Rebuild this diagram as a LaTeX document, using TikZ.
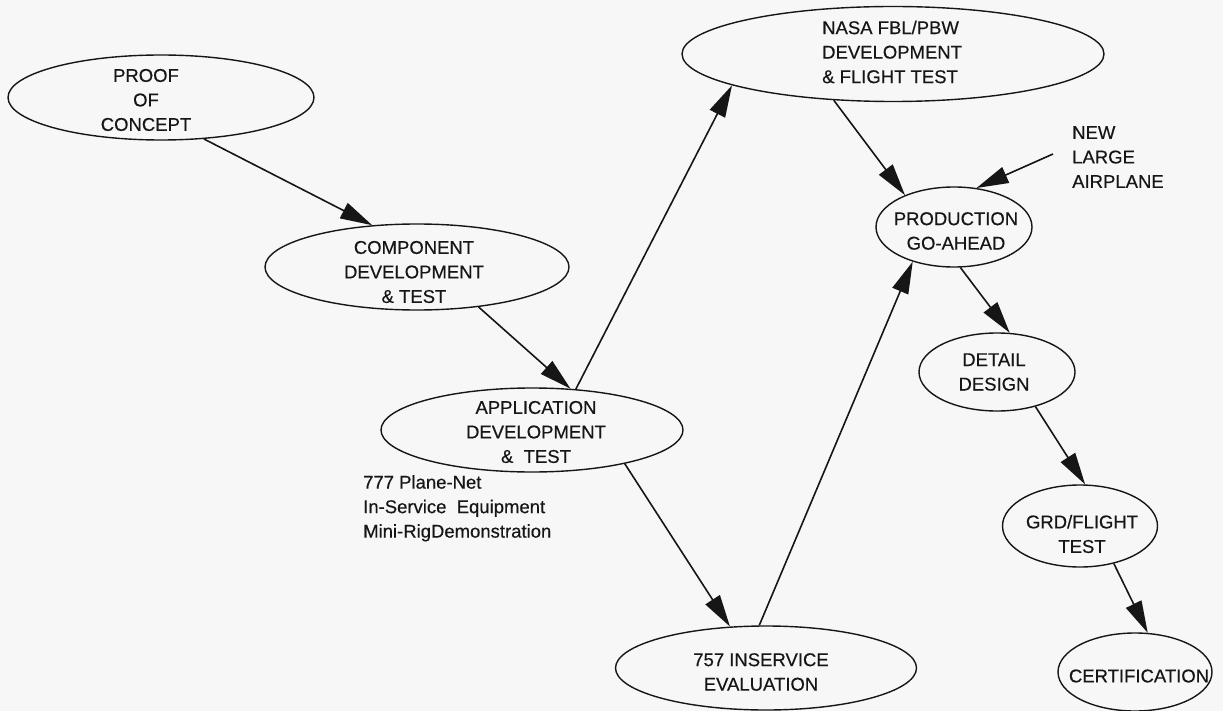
\documentclass[tikz,border=0pt]{standalone}
\usepackage{fontspec}
\setmainfont[FakeBold=0.4]{Liberation Sans}
\usetikzlibrary{shapes.geometric,arrows.meta}
\definecolor{paper}{RGB}{246,247,246}
\definecolor{ink}{RGB}{22,22,22}
\begin{document}
\begin{tikzpicture}[x=1pt,y=-1pt,
  oval/.style={draw=ink, ellipse, line width=1.4pt, inner sep=0pt},
  lbl/.style={text=ink, align=center, inner sep=0pt, font=\fontsize{18.5}{24.5}\selectfont},
  lbll/.style={lbl, align=left},
  conn/.style={draw=ink, line width=1.6pt, -{Triangle[length=32pt,width=17pt]}}]
\fill[paper] (0,0) rectangle (1223,711);
\useasboundingbox (0,0) rectangle (1223,711);
% ellipses
\node[oval, minimum width=306pt, minimum height=85pt] (poc) at (161,97.5) {};
\node[oval, minimum width=304pt, minimum height=86pt] (comp) at (417,267) {};
\node[oval, minimum width=302pt, minimum height=84pt] (app) at (532,430) {};
\node[oval, minimum width=422pt, minimum height=95pt] (nasa) at (893,54) {};
\node[oval, minimum width=301pt, minimum height=84pt] (eval) at (766,668) {};
\node[oval, minimum width=156pt, minimum height=80pt] (prod) at (954,227) {};
\node[oval, minimum width=156pt, minimum height=78pt] (detail) at (997,372) {};
\node[oval, minimum width=155pt, minimum height=82pt] (grd) at (1080,526) {};
\node[oval, minimum width=154pt, minimum height=78pt] (cert) at (1135,672) {};
% texts
\node[lbl] (pocT) at (146,100) {PROOF\\OF\\CONCEPT};
\node[lbl] (compT) at (414,272) {COMPONENT\\DEVELOPMENT\\\& TEST};
\node[lbl] (appT) at (536,432) {APPLICATION\\DEVELOPMENT\\\&\ \ TEST};
\node[lbll, anchor=west] (nasaT) at (822,52) {NASA FBL/PBW\\DEVELOPMENT\\\& FLIGHT TEST};
\node[lbl] (evalT) at (761,672) {757 INSERVICE\\EVALUATION};
\node[lbl] (prodT) at (956,231) {PRODUCTION\\GO-AHEAD};
\node[lbl] (detailT) at (994,372) {DETAIL\\DESIGN};
\node[lbl] (grdT) at (1082,534) {GRD/FLIGHT\\TEST};
\node[lbl] (certT) at (1139,676) {CERTIFICATION};
\node[lbll, anchor=north west] (nlaT) at (1072,126) {NEW\\LARGE\\AIRPLANE};
\node[lbll, anchor=north west] (noteT) at (363,475) {777 Plane-Net\\In-Service\ \ Equipment\\Mini-RigDemonstration};
\coordinate (nlaS) at (1053,154);
% connectors
\draw[conn] (poc.-44.7) -- (comp.137);
\draw[conn] (comp.-33.3) -- (app.47.2);
\draw[conn] (app.43) -- (nasa.-169.2);
\draw[conn] (app.-20) -- (eval.131.8);
\draw[conn] (eval.99.5) -- (prod.220.6);
\draw[conn] (nasa.218.7) -- (prod.147.9);
\draw[conn] (nlaS) -- (prod.60);
\draw[conn] (prod.-81.7) -- (detail.72.9);
\draw[conn] (detail.-42.6) -- (grd.83);
\draw[conn] (grd.-48) -- (cert.72.9);
\end{tikzpicture}
\end{document}
